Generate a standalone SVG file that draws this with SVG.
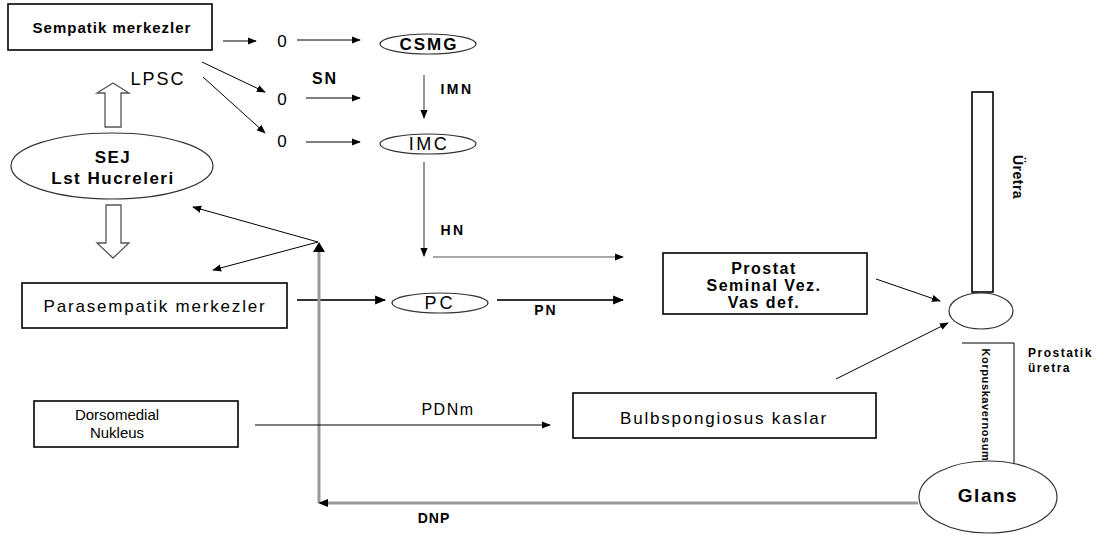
<svg xmlns="http://www.w3.org/2000/svg" width="1111" height="536" viewBox="0 0 1111 536">
<style>
  text { font-family: "Liberation Sans", Arial, sans-serif; fill: #000; }
  .b { font-weight: bold; }
  .box { fill: #fff; stroke: #000; stroke-width: 1.6; }
  .ell { fill: #fff; stroke: #333; stroke-width: 1.2; }
  .ln { stroke: #000; stroke-width: 1; fill: none; }
  .gl { stroke: #555; stroke-width: 1.2; fill: none; }
  .thk { stroke: #333; stroke-width: 2.2; fill: none; }
  .gray { stroke: #999; stroke-width: 3; fill: none; }
  .hol { fill: #fff; stroke: #555; stroke-width: 1.3; }
</style>
<defs>
  <marker id="ah" viewBox="0 0 10 10" refX="9" refY="5" markerWidth="9" markerHeight="9" markerUnits="userSpaceOnUse" orient="auto">
    <path d="M0,1 L10,5 L0,9 Z" fill="#000"/>
  </marker>
  <marker id="ahs" viewBox="0 0 10 10" refX="9" refY="5" markerWidth="5" markerHeight="5" orient="auto">
    <path d="M0,1 L10,5 L0,9 Z" fill="#000"/>
  </marker>
</defs>
<rect width="1111" height="536" fill="#fff"/>

<g id="connectors">
  <line class="ln" x1="223" y1="41" x2="256" y2="41" marker-end="url(#ah)"/>
  <line class="ln" x1="297" y1="40" x2="360" y2="40" marker-end="url(#ah)"/>
  <line class="ln" x1="202" y1="62" x2="265" y2="92" marker-end="url(#ah)"/>
  <line class="ln" x1="203" y1="77" x2="265" y2="133" marker-end="url(#ah)"/>
  <line class="ln" x1="306" y1="98" x2="360" y2="98" marker-end="url(#ah)"/>
  <line class="ln" x1="306" y1="142" x2="360" y2="142" marker-end="url(#ah)"/>
  <line class="gl" x1="424" y1="75" x2="424" y2="118" marker-end="url(#ah)"/>
  <line class="gl" x1="424" y1="162" x2="424" y2="256" marker-end="url(#ah)"/>
  <line class="gl" x1="433" y1="257" x2="623" y2="257" marker-end="url(#ah)"/>
  <line class="thk" x1="297" y1="300" x2="385" y2="300" marker-end="url(#ahs)"/>
  <line class="thk" x1="497" y1="300" x2="623" y2="300" marker-end="url(#ahs)"/>
  <line class="gray" x1="319" y1="503" x2="319" y2="252"/>
  <path d="M313,252 L319,242 L325,252 Z" fill="#000"/>
  <line class="ln" x1="318" y1="242" x2="193" y2="207" marker-end="url(#ah)"/>
  <line class="ln" x1="318" y1="242" x2="213" y2="270" marker-end="url(#ah)"/>
  <line class="gray" x1="918" y1="503" x2="326" y2="503"/>
  <path d="M328,499 L318,503 L328,507 Z" fill="#000"/>
  <line class="ln" x1="255" y1="425" x2="550" y2="425" marker-end="url(#ah)"/>
  <line class="ln" x1="876" y1="279" x2="940" y2="301" marker-end="url(#ah)"/>
  <line class="ln" x1="836" y1="379" x2="948" y2="323" marker-end="url(#ah)"/>
  <path class="hol" d="M105,127 L105,93 L97,93 L113,83 L129,93 L121,93 L121,127 Z"/>
  <path class="hol" d="M106,205 L121,205 L121,243 L129,243 L113,258 L97,243 L106,243 Z"/>
</g>

<g id="sempatik">
  <rect class="box" x="8" y="4" width="204" height="46"/>
  <text class="b" x="112" y="33" font-size="15" text-anchor="middle" letter-spacing="1">Sempatik merkezler</text>
</g>
<g id="o1"><text x="282" y="47" font-size="17" text-anchor="middle">0</text></g>
<g id="o2"><text x="282" y="105" font-size="17" text-anchor="middle">0</text></g>
<g id="o3"><text x="282" y="147" font-size="17" text-anchor="middle">0</text></g>
<g id="csmg">
  <ellipse class="ell" cx="428" cy="44" rx="48" ry="10"/>
  <text class="b" x="429" y="50" font-size="17" text-anchor="middle" letter-spacing="2">CSMG</text>
</g>
<g id="imc">
  <ellipse class="ell" cx="428" cy="144" rx="48" ry="10"/>
  <text x="429" y="150" font-size="18" text-anchor="middle" letter-spacing="2.5">IMC</text>
</g>
<g id="pc">
  <ellipse class="ell" cx="440" cy="303" rx="48" ry="10"/>
  <text x="440" y="309" font-size="18" text-anchor="middle" letter-spacing="3">PC</text>
</g>
<g id="sej">
  <ellipse class="ell" cx="112" cy="166" rx="101" ry="33"/>
  <text class="b" x="113" y="163" font-size="17" text-anchor="middle" letter-spacing="1.5">SEJ</text>
  <text class="b" x="113" y="184" font-size="17" text-anchor="middle" letter-spacing="1.5">Lst Hucreleri</text>
</g>
<g id="parasempatik">
  <rect class="box" x="22" y="283" width="265" height="45"/>
  <text x="155" y="312" font-size="17" text-anchor="middle" letter-spacing="1.8">Parasempatik merkezler</text>
</g>
<g id="dorsomedial">
  <rect class="box" x="34" y="401" width="204" height="46"/>
  <text x="117" y="420" font-size="15" text-anchor="middle">Dorsomedial</text>
  <text x="117" y="438" font-size="15" text-anchor="middle">Nukleus</text>
</g>
<g id="bulbspongiosus">
  <rect class="box" x="573" y="393" width="303" height="45"/>
  <text x="724" y="424" font-size="17" text-anchor="middle" letter-spacing="1.8">Bulbspongiosus kaslar</text>
</g>
<g id="prostat">
  <rect class="box" x="663" y="253" width="204" height="61"/>
  <text class="b" x="764" y="274" font-size="16" text-anchor="middle" letter-spacing="1.5">Prostat</text>
  <text class="b" x="764" y="291" font-size="16" text-anchor="middle" letter-spacing="1.5">Seminal Vez.</text>
  <text class="b" x="764" y="308" font-size="16" text-anchor="middle" letter-spacing="1.5">Vas def.</text>
</g>
<g id="uretra">
  <rect class="box" x="972" y="92" width="21" height="200"/>
  <text class="b" font-size="14" text-anchor="middle" letter-spacing="0.5" transform="translate(1013,177) rotate(90)">Üretra</text>
</g>
<g id="prostatik-circle">
  <ellipse class="ell" cx="981" cy="311" rx="32" ry="18"/>
</g>
<g id="korpus">
  <polyline class="ln" points="962,343 1014,343 1014,466 962,466" stroke-width="1.4"/>
  <text class="b" font-size="11" text-anchor="middle" letter-spacing="0.6" transform="translate(982,405) rotate(90)">Korpuskavernosum</text>
</g>
<g id="prostatik-label">
  <text class="b" x="1028" y="357" font-size="12" letter-spacing="1.5">Prostatik</text>
  <text class="b" x="1028" y="372" font-size="12" letter-spacing="1.5">üretra</text>
</g>
<g id="glans">
  <ellipse class="ell" cx="988" cy="497" rx="69" ry="36"/>
  <text class="b" x="988" y="502" font-size="19" text-anchor="middle" letter-spacing="1.5">Glans</text>
</g>

<g id="labels">
  <text x="158" y="85" font-size="18" text-anchor="middle" letter-spacing="2">LPSC</text>
  <text class="b" x="325" y="84" font-size="16" text-anchor="middle" letter-spacing="2">SN</text>
  <text class="b" x="457" y="94" font-size="14" text-anchor="middle" letter-spacing="2.5">IMN</text>
  <text class="b" x="453" y="235" font-size="14" text-anchor="middle" letter-spacing="2.5">HN</text>
  <text class="b" x="546" y="315" font-size="14" text-anchor="middle" letter-spacing="2">PN</text>
  <text x="448" y="415" font-size="16" text-anchor="middle" letter-spacing="1.5">PDNm</text>
  <text class="b" x="434" y="523" font-size="14" text-anchor="middle" letter-spacing="1">DNP</text>
</g>
</svg>
